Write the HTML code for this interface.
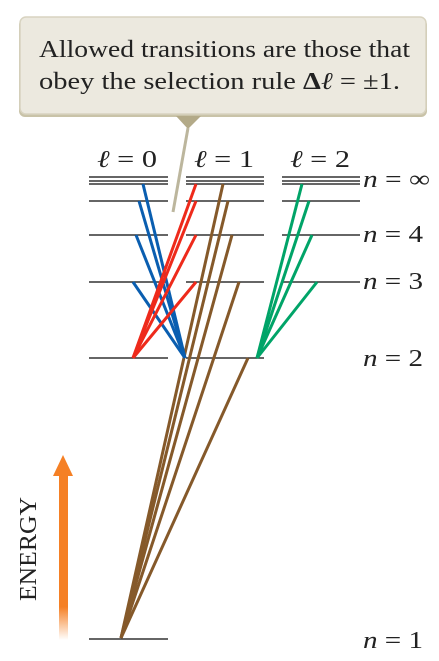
<!DOCTYPE html>
<html><head><meta charset="utf-8"><style>
html,body{margin:0;padding:0;background:#fff;width:439px;height:661px;overflow:hidden}
svg{display:block;font-family:"Liberation Serif",serif}
</style></head><body>
<svg width="439" height="661" viewBox="0 0 439 661">
<defs>
<linearGradient id="fade" x1="0" y1="0" x2="0" y2="1">
<stop offset="0" stop-color="#f58025"/><stop offset="0.8" stop-color="#f58025"/><stop offset="1" stop-color="#f58025" stop-opacity="0"/>
</linearGradient>
</defs>
<g>
<rect x="19" y="19" width="408" height="98" rx="6" fill="#c9c3a8"/>
<rect x="20" y="17" width="406" height="97" rx="6" fill="#ece9df" stroke="#d8d3c0" stroke-width="1.5"/>
<polygon points="176,116 201,116 188,129" fill="#b3aa88"/>
<line x1="188" y1="128" x2="173" y2="212" stroke="#bcb69d" stroke-width="3"/>
<text x="39" y="57" font-size="24" fill="#222" textLength="371" lengthAdjust="spacingAndGlyphs">Allowed transitions are those that</text>
<text x="39" y="89" font-size="24" fill="#222" textLength="361" lengthAdjust="spacingAndGlyphs">obey the selection rule <tspan font-weight="bold">Δ</tspan><tspan font-style="italic">ℓ</tspan> = ±1.</text>
</g>
<g id="levels"></g>
<g id="trans"></g>
<g font-size="24" fill="#222">
<text x="97" y="167" textLength="60" lengthAdjust="spacingAndGlyphs"><tspan font-style="italic">ℓ</tspan> = 0</text>
<text x="194" y="167" textLength="60" lengthAdjust="spacingAndGlyphs"><tspan font-style="italic">ℓ</tspan> = 1</text>
<text x="290" y="167" textLength="60" lengthAdjust="spacingAndGlyphs"><tspan font-style="italic">ℓ</tspan> = 2</text>
</g>
<g font-size="24" fill="#222">
<text x="363" y="187" textLength="67" lengthAdjust="spacingAndGlyphs"><tspan font-style="italic">n</tspan> = ∞</text>
<text x="363" y="242" textLength="60" lengthAdjust="spacingAndGlyphs"><tspan font-style="italic">n</tspan> = 4</text>
<text x="363" y="289" textLength="60" lengthAdjust="spacingAndGlyphs"><tspan font-style="italic">n</tspan> = 3</text>
<text x="363" y="366" textLength="60" lengthAdjust="spacingAndGlyphs"><tspan font-style="italic">n</tspan> = 2</text>
<text x="363" y="648" textLength="60" lengthAdjust="spacingAndGlyphs"><tspan font-style="italic">n</tspan> = 1</text>
</g>
<g>
<rect x="59" y="474" width="9" height="166" fill="url(#fade)"/>
<polygon points="53,476 63,455 73,476" fill="#f58025"/>
</g>
<text transform="translate(36,549) rotate(-90)" font-size="24" fill="#222" text-anchor="middle" textLength="104" lengthAdjust="spacingAndGlyphs">ENERGY</text>
</svg>
<script>
const levelY = [177, 181, 184, 201, 235, 282, 358, 639];
const levelNames = ['inf-a','inf-b','inf-c','n5','n4','n3','n2','n1'];
const colX = [[89,168],[186,264],[282,360]];
// transitions: [x1,y1,x2,y2]
const blue=[[143,184,185,358],[139,201,185,358],[136,235,185,358],[133,282,185,358]];
const red=[[196,184,133,358],[196,201,133,358],[196,235,133,358],[196,282,133,358]];
const green=[[302,184,257,358],[309,201,257,358],[312,235,257,358],[317,282,257,358]];
const brown=[[223,184,121,638],[228,201,121,638],[232,235,121,638],[239,282,121,638],[248,358,121,638]];
const ns="http://www.w3.org/2000/svg";
const lg=document.getElementById('levels');
for(let c=0;c<3;c++){
  for(let i=0;i<levelY.length;i++){
    if(levelY[i]===639 && c>0) continue;
    if(levelY[i]===358 && c===2) continue;
    const l=document.createElementNS(ns,'line');
    
    
    l.setAttribute('x1',colX[c][0]);l.setAttribute('x2',colX[c][1]);
    l.setAttribute('y1',levelY[i]);l.setAttribute('y2',levelY[i]);
    l.setAttribute('stroke','#333');l.setAttribute('stroke-width','1.6');
    lg.appendChild(l);
  }
}
const tg=document.getElementById('trans');
function draw(arr,color,name){
  arr.forEach(function(s,i){
    const l=document.createElementNS(ns,'line');
    
    
    l.setAttribute('x1',s[0]);l.setAttribute('y1',s[1]);l.setAttribute('x2',s[2]);l.setAttribute('y2',s[3]);
    l.setAttribute('stroke',color);l.setAttribute('stroke-width','3');
    tg.appendChild(l);
  });
}
draw(brown,'#85592a','brown');
draw(blue,'#0a5eb0','blue');
draw(red,'#ee2a1b','red');
draw(green,'#00a468','green');
</script>
</body></html>
